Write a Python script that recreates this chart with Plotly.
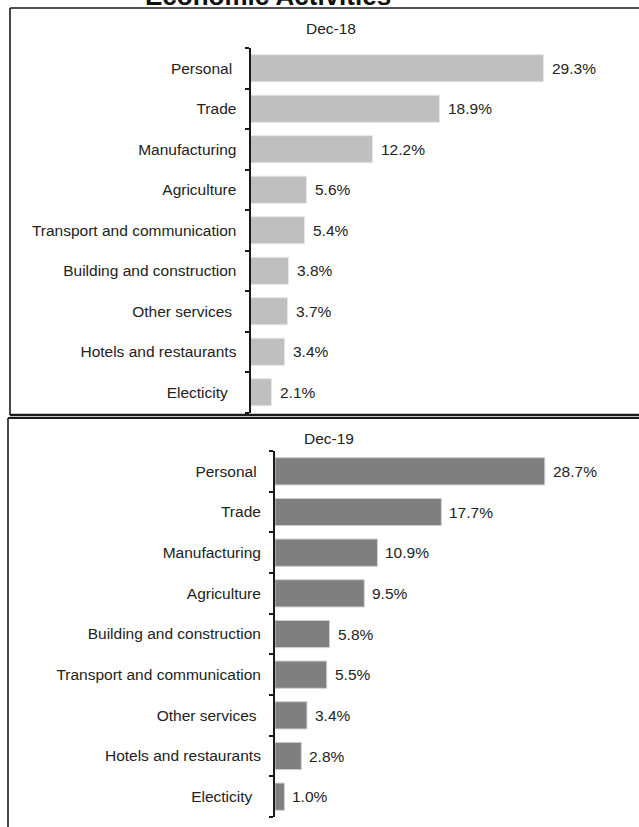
import plotly.graph_objects as go

W, H = 639, 827

cats18 = ["Personal", "Trade", "Manufacturing", "Agriculture", "Transport and communication",
          "Building and construction", "Other services", "Hotels and restaurants", "Electicity"]
vals18 = [29.3, 18.9, 12.2, 5.6, 5.4, 3.8, 3.7, 3.4, 2.1]
ticks18 = ["Personal\u00a0", "Trade", "Manufacturing", "Agriculture", "Transport and communication",
           "Building and construction", "Other services\u00a0", "Hotels and restaurants", "Electicity\u00a0\u00a0"]

cats19 = ["Personal", "Trade", "Manufacturing", "Agriculture", "Building and construction",
          "Transport and communication", "Other services", "Hotels and restaurants", "Electicity"]
vals19 = [28.7, 17.7, 10.9, 9.5, 5.8, 5.5, 3.4, 2.8, 1.0]
ticks19 = ["Personal\u00a0", "Trade", "Manufacturing", "Agriculture", "Building and construction",
           "Transport and communication", "Other services\u00a0", "Hotels and restaurants", "Electicity\u00a0\u00a0"]

title = "Economic Activities"
sub18 = "Dec-18"
sub19 = "Dec-19"

FONT = "Liberation Sans, Arial, sans-serif"
FS = 15.5
TXT = "#222222"

def px(x):
    return x / W

def py(y):
    return 1 - y / H

fig = go.Figure()
fig.add_trace(go.Bar(x=vals18, y=cats18, orientation="h", xaxis="x", yaxis="y",
                     marker=dict(color="#BFBFBF", line=dict(color="#e6e6e6", width=1)),
                     showlegend=False, hoverinfo="x+y"))
fig.add_trace(go.Bar(x=vals19, y=cats19, orientation="h", xaxis="x2", yaxis="y2",
                     marker=dict(color="#7F7F7F", line=dict(color="#d0d0d0", width=1)),
                     showlegend=False, hoverinfo="x+y"))

ann = []
for c, v in zip(cats18, vals18):
    ann.append(dict(x=v, y=c, xref="x", yref="y", text=f"{v:.1f}%", showarrow=False,
                    xanchor="left", yanchor="middle", xshift=6,
                    font=dict(family=FONT, size=FS, color=TXT)))
for c, v in zip(cats19, vals19):
    ann.append(dict(x=v, y=c, xref="x2", yref="y2", text=f"{v:.1f}%", showarrow=False,
                    xanchor="left", yanchor="middle", xshift=6,
                    font=dict(family=FONT, size=FS, color=TXT)))
ann.append(dict(x=px(331), y=py(29), xref="paper", yref="paper", text=sub18, showarrow=False,
                xanchor="center", yanchor="middle", font=dict(family=FONT, size=FS, color=TXT)))
ann.append(dict(x=px(328.5), y=py(438), xref="paper", yref="paper", text=sub19, showarrow=False,
                xanchor="center", yanchor="middle", font=dict(family=FONT, size=FS, color=TXT)))
ann.append(dict(x=px(267.5), y=py(-3.5), xref="paper", yref="paper", text=f"<b>{title}</b>",
                showarrow=False, xanchor="center", yanchor="middle",
                font=dict(family=FONT, size=26, color="#111111")))

LC = "#1a1a1a"
shapes = [
    # top box
    dict(type="line", xref="paper", yref="paper", x0=px(10), x1=px(645), y0=py(8), y1=py(8),
         line=dict(color=LC, width=1.6)),
    dict(type="line", xref="paper", yref="paper", x0=px(10), x1=px(10), y0=py(8), y1=py(415),
         line=dict(color=LC, width=1.6)),
    dict(type="line", xref="paper", yref="paper", x0=px(10), x1=px(645), y0=py(415), y1=py(415),
         line=dict(color=LC, width=2.5)),
    # bottom box
    dict(type="line", xref="paper", yref="paper", x0=px(8), x1=px(645), y0=py(418), y1=py(418),
         line=dict(color=LC, width=2)),
    dict(type="line", xref="paper", yref="paper", x0=px(8), x1=px(8), y0=py(418), y1=py(835),
         line=dict(color=LC, width=1.6)),
]

def yax(cats, ticks, y0, y1):
    return dict(domain=[py(y1), py(y0)], type="category", categoryorder="array",
                categoryarray=cats, range=[len(cats) - 0.5, -0.5],
                tickmode="array", tickvals=cats, ticktext=ticks,
                tickson="boundaries", ticks="outside", ticklen=4, tickwidth=1.5, tickcolor=LC,
                showline=True, linecolor=LC, linewidth=2, showgrid=False, zeroline=False,
                ticklabelstandoff=9,
                tickfont=dict(family=FONT, size=FS, color=TXT), fixedrange=True)

ax1 = 250.5
ax2 = 275
fig.update_layout(
    width=W, height=H, margin=dict(l=0, r=0, t=0, b=0),
    paper_bgcolor="white", plot_bgcolor="white",
    bargap=0.33,
    xaxis=dict(domain=[px(ax1), 1], range=[0, (W - ax1) / 10.0], visible=False, fixedrange=True),
    yaxis=yax(cats18, ticks18, 48, 412.5),
    xaxis2=dict(domain=[px(ax2), 1], range=[0, (W - ax2) / 9.4], visible=False, anchor="y2",
                fixedrange=True),
    yaxis2=yax(cats19, ticks19, 451, 817) | dict(anchor="x2"),
    annotations=ann, shapes=shapes, showlegend=False,
)
fig.update_layout(yaxis=dict(anchor="x"))

fig.write_html("out.html", config={"displayModeBar": False},
               post_script="document.body.style.margin='0';document.body.style.overflow='hidden';")
